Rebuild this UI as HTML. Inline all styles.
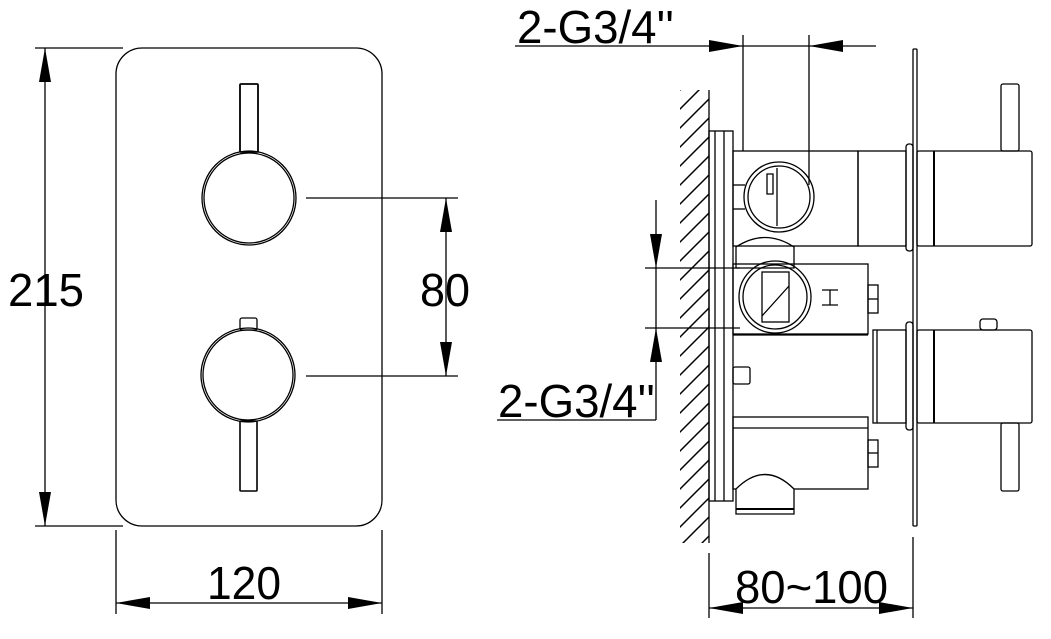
<!DOCTYPE html>
<html><head><meta charset="utf-8"><style>html,body{margin:0;padding:0;background:#fff}svg{display:block}</style></head>
<body>
<svg width="1051" height="639" viewBox="0 0 1051 639" xmlns="http://www.w3.org/2000/svg">
<defs>
<pattern id="h" width="19" height="19" patternUnits="userSpaceOnUse" x="680" y="90">
<path d="M-3,22 L22,-3 M-3,3 L3,-3 M16,22 L22,16" stroke="#000" stroke-width="1.5"/>
</pattern>
</defs>
<g fill="none" stroke="#000" stroke-width="1.3">
<rect x="116" y="48" width="266" height="478" rx="26"/>
<circle cx="249" cy="198" r="47"/><circle cx="249" cy="198" r="45"/>
<circle cx="248" cy="375" r="47"/><circle cx="248" cy="375" r="45"/>
<rect x="240" y="84" width="18" height="68" rx="1" stroke-width="1.8"/>
<rect x="240" y="421" width="17" height="70" rx="1" stroke-width="1.6"/>
<rect x="240" y="318" width="17" height="12" rx="2"/>
<line x1="35" y1="48" x2="123" y2="48"/><line x1="35" y1="526" x2="123" y2="526"/>
<line x1="45" y1="48" x2="45" y2="526"/>
<line x1="306" y1="198" x2="458" y2="198"/><line x1="306" y1="376" x2="458" y2="376"/>
<line x1="446" y1="198" x2="446" y2="376"/>
<line x1="116" y1="530" x2="116" y2="614"/><line x1="382" y1="530" x2="382" y2="614"/>
<line x1="116" y1="603" x2="382" y2="603"/>

<line x1="709" y1="90" x2="709" y2="543"/>
<rect x="709" y="131" width="24" height="370"/>
<line x1="715" y1="131" x2="715" y2="501"/><line x1="724" y1="131" x2="724" y2="501"/>
<rect x="913" y="49" width="4" height="477" rx="1"/>
<rect x="733" y="151" width="125" height="95"/>
<rect x="858" y="151" width="48" height="95"/>
<rect x="906" y="144" width="7" height="107" rx="3"/>
<rect x="917" y="151" width="115" height="95" rx="2"/>
<line x1="934" y1="151" x2="934" y2="246" stroke-width="2"/>
<rect x="1001" y="84" width="18" height="67" rx="2"/>
<circle cx="779" cy="197" r="35"/><circle cx="779" cy="197" r="31"/>
<path d="M777,168 L777,226 M767,174 L767,194 L773,194 L773,174 Z"/>
<line x1="733" y1="185" x2="745" y2="185"/><line x1="733" y1="209" x2="745" y2="209"/>
<path d="M736,247 Q765,228 794,247 L794,268 L736,268 Z"/>
<rect x="733" y="264" width="135" height="70"/>
<rect x="868" y="285" width="10" height="28"/>
<line x1="868" y1="299" x2="878" y2="299"/>
<circle cx="775" cy="297" r="36"/><circle cx="775" cy="297" r="32"/>
<rect x="762" y="272" width="27" height="50"/>
<line x1="762" y1="316" x2="789" y2="286"/>
<path d="M822,290 L838,290 M822,305 L838,305 M830,290 L830,305"/>
<rect x="873" y="330" width="33" height="93"/>
<line x1="877" y1="330" x2="877" y2="423"/>
<rect x="906" y="322" width="7" height="108" rx="3"/>
<rect x="917" y="330" width="115" height="93" rx="2"/>
<line x1="934" y1="330" x2="934" y2="423" stroke-width="2"/>
<rect x="1001" y="423" width="18" height="68" rx="2"/>
<rect x="980" y="319" width="17" height="11" rx="3"/>
<line x1="733" y1="335" x2="868" y2="335"/>
<rect x="733" y="367" width="17" height="17" rx="2"/>
<rect x="733" y="417" width="135" height="72"/>
<line x1="733" y1="428" x2="868" y2="428"/>
<rect x="868" y="440" width="10" height="27"/>
<line x1="868" y1="453" x2="878" y2="453"/>
<path d="M736,489 Q765,460 794,489 L794,514 L736,514 Z" fill="#fff"/>
<line x1="736" y1="509" x2="794" y2="509" stroke-width="2"/>
<line x1="515" y1="46" x2="876" y2="46"/>
<line x1="743" y1="35" x2="743" y2="151"/><line x1="809" y1="35" x2="809" y2="185"/>
<line x1="645" y1="268" x2="740" y2="268"/><line x1="645" y1="328" x2="740" y2="328"/>
<line x1="656" y1="200" x2="656" y2="420"/>
<line x1="497" y1="420" x2="656" y2="420"/>
<line x1="709" y1="553" x2="709" y2="618"/><line x1="913" y1="537" x2="913" y2="618"/>
<line x1="709" y1="608" x2="913" y2="608"/>
</g>
<rect x="680" y="90" width="29" height="453" fill="url(#h)"/>
<g fill="#000">
<path d="M45,48 l-6,34 h12z"/><path d="M45,526 l-6,-34 h12z"/>
<path d="M446,198 l-6,34 h12z"/><path d="M446,376 l-6,-34 h12z"/>
<path d="M116,603 l34,-6 v12z"/><path d="M382,603 l-34,-6 v12z"/>
<path d="M743,46 l-34,-6 v12z"/><path d="M809,46 l34,-6 v12z"/>
<path d="M656,268 l-6,-34 h12z"/><path d="M656,328 l-6,34 h12z"/>
<path d="M709,608 l34,-6 v12z"/><path d="M913,608 l-34,-6 v12z"/>
</g>
<g font-family="Liberation Sans, Arial, sans-serif" font-size="46" fill="#000">
<text x="8" y="306" textLength="76" lengthAdjust="spacingAndGlyphs">215</text>
<text x="420" y="306" textLength="50" lengthAdjust="spacingAndGlyphs">80</text>
<text x="207" y="599" textLength="74" lengthAdjust="spacingAndGlyphs">120</text>
<text x="517" y="43" textLength="157" lengthAdjust="spacingAndGlyphs">2-G3/4''</text>
<text x="498" y="417" textLength="157" lengthAdjust="spacingAndGlyphs">2-G3/4''</text>
<text x="735" y="603" textLength="153" lengthAdjust="spacingAndGlyphs">80~100</text>
</g>
</svg>
</body></html>
